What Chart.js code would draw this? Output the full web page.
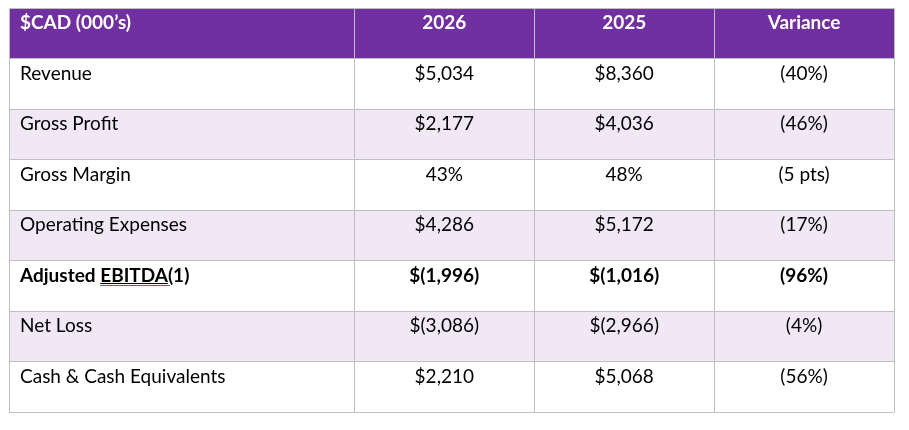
<!DOCTYPE html>
<html>
<head>
<meta charset="utf-8">
<script src="https://cdn.jsdelivr.net/npm/chart.js@4/dist/chart.umd.min.js"></script>
<style>
  html, body { margin: 0; padding: 0; background: #fff; }
  #wrap { width: 909px; height: 430px; position: relative; }
</style>
</head>
<body>
<div id="wrap"><canvas id="table"></canvas></div>
<script>
// table content
const headers = ['$CAD (000\u2019s)', '2026', '2025', 'Variance'];
const rowLabels = ['Revenue', 'Gross Profit', 'Gross Margin', 'Operating Expenses', 'Adjusted EBITDA(1)', 'Net Loss', 'Cash & Cash Equivalents'];
const values2026 = ['$5,034', '$2,177', '43%', '$4,286', '$(1,996)', '$(3,086)', '$2,210'];
const values2025 = ['$8,360', '$4,036', '48%', '$5,172', '$(1,016)', '$(2,966)', '$5,068'];
const variance = ['(40%)', '(46%)', '(5 pts)', '(17%)', '(96%)', '(4%)', '(56%)'];
const boldRows = ['Adjusted EBITDA(1)'];

// layout (column edges on the x scale, first column is wider)
const colEdges = [0, 1.92, 2.92, 3.92, 4.92];
const FONT = 'Lato, "Noto Sans", sans-serif';
const FONT_SIZE = 19;
const PURPLE = '#7030A0';
const LAVENDER = '#F0E8F5';
const LINE = '#BFBFBF';

const yLabels = [headers[0]].concat(rowLabels);
const columnsText = [rowLabels, values2026, values2025, variance];

const rowFill = (i) => (i === 0 ? PURPLE : (i % 2 === 0 ? LAVENDER : '#FFFFFF'));

const datasets = headers.map((h, c) => ({
  label: h,
  data: yLabels.map(() => [colEdges[c], colEdges[c + 1]]),
  backgroundColor: yLabels.map((_, i) => rowFill(i)),
  borderWidth: 0,
  grouped: false,
  categoryPercentage: 1,
  barPercentage: 1
}));

const cellText = {
  id: 'cellText',
  afterDraw(chart) {
    const { ctx, scales: { x, y } } = chart;
    const rowH = y.getPixelForValue(1) - y.getPixelForValue(0);
    ctx.save();
    ctx.textBaseline = 'alphabetic';
    yLabels.forEach((lbl, r) => {
      const top = y.getPixelForValue(r) - rowH / 2;
      const base = top + 21;
      const header = r === 0;
      const bold = header || boldRows.includes(lbl);
      ctx.font = (bold ? 'bold ' : '') + FONT_SIZE + 'px ' + FONT;
      ctx.fillStyle = header ? '#FFFFFF' : '#000000';
      for (let c = 0; c < headers.length; c++) {
        const txt = header ? headers[c] : columnsText[c][r - 1];
        if (c === 0) {
          const left = x.getPixelForValue(colEdges[0]) + 11;
          ctx.textAlign = 'left';
          ctx.fillText(txt, left, base);
          if (txt.indexOf('EBITDA') >= 0) {
            // underline on EBITDA plus the blue spell-check line
            const pre = ctx.measureText(txt.slice(0, txt.indexOf('EBITDA'))).width;
            const w = ctx.measureText('EBITDA').width;
            const yb = Math.round(base);
            ctx.lineWidth = 1;
            ctx.strokeStyle = '#000000';
            ctx.beginPath();
            ctx.moveTo(left + pre, yb + 1.5);
            ctx.lineTo(left + pre + w, yb + 1.5);
            ctx.stroke();
            ctx.strokeStyle = '#2F6BD0';
            ctx.beginPath();
            ctx.moveTo(left + pre, yb + 3.5);
            ctx.lineTo(left + pre + w + 2, yb + 3.5);
            ctx.stroke();
          }
        } else {
          ctx.textAlign = 'center';
          ctx.fillText(txt, x.getPixelForValue((colEdges[c] + colEdges[c + 1]) / 2), base);
        }
      }
    });
    ctx.restore();
  }
};

new Chart(document.getElementById('table'), {
  type: 'bar',
  data: { labels: yLabels, datasets: datasets },
  options: {
    indexAxis: 'y',
    responsive: true,
    maintainAspectRatio: false,
    animation: false,
    events: [],
    layout: { padding: { left: 9, top: 8, right: 15, bottom: 18 } },
    plugins: { legend: { display: false }, tooltip: { enabled: false } },
    scales: {
      x: {
        type: 'linear',
        position: 'top',
        min: colEdges[0],
        max: colEdges[colEdges.length - 1],
        afterBuildTicks: (axis) => { axis.ticks = colEdges.map(v => ({ value: v })); },
        ticks: { display: false },
        grid: { color: LINE, drawTicks: false, z: 1 },
        border: { color: LINE, z: 1 }
      },
      y: {
        type: 'category',
        offset: true,
        ticks: { display: false },
        grid: { offset: true, color: LINE, drawTicks: false, z: 1 },
        border: { color: LINE, z: 1 }
      }
    }
  },
  plugins: [cellText]
});
</script>
</body>
</html>
